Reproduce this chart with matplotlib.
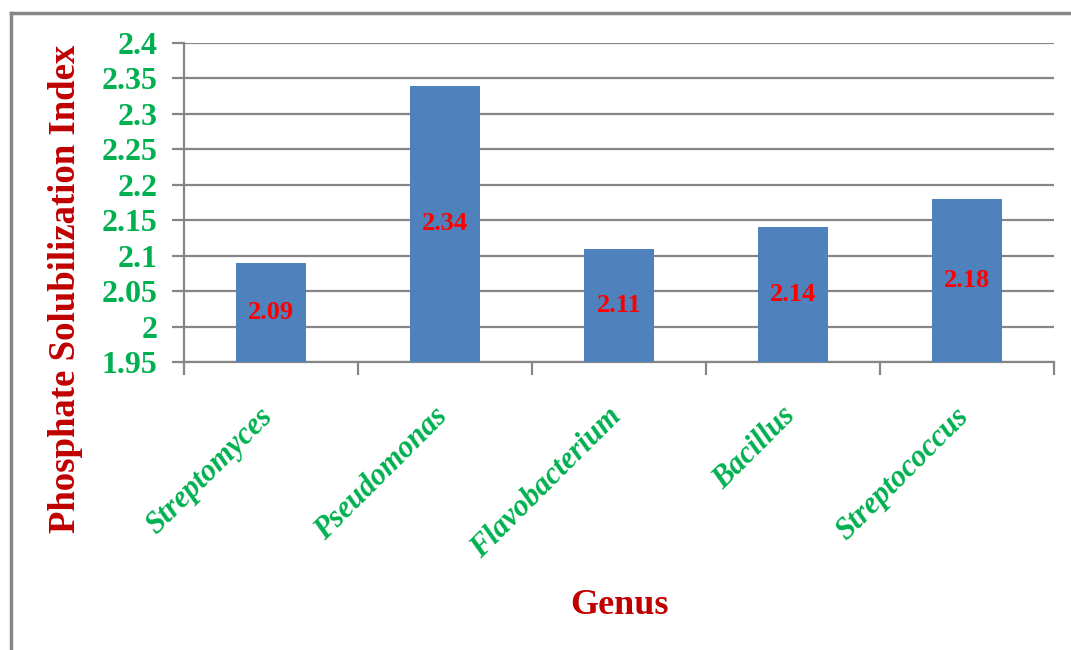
import matplotlib
matplotlib.use("Agg")
import matplotlib.pyplot as plt
from matplotlib.lines import Line2D
from matplotlib import transforms

genera = ["Streptomyces", "Pseudomonas", "Flavobacterium", "Bacillus", "Streptococcus"]
psi_values = [2.09, 2.34, 2.11, 2.14, 2.18]
y_ticks = [1.95, 2.0, 2.05, 2.1, 2.15, 2.2, 2.25, 2.3, 2.35, 2.4]
y_tick_labels = ["1.95", "2", "2.05", "2.1", "2.15", "2.2", "2.25", "2.3", "2.35", "2.4"]

GREEN = "#00B050"
DARK_RED = "#C00000"
RED = "#FF0000"
BAR = "#4F81BD"
GRID = "#868686"

plt.rcParams["font.family"] = ["Liberation Serif", "DejaVu Serif"]

fig = plt.figure(figsize=(10.71, 6.5), dpi=100)
ax = fig.add_axes([184 / 1071, 1 - 362 / 650, (1054 - 184) / 1071, (362 - 43) / 650])

base = y_ticks[0]
x = list(range(len(genera)))
heights = [v - base for v in psi_values]
ax.bar(x, heights, bottom=base, width=0.4, color=BAR, zorder=3)

for xi, v in zip(x, psi_values):
    ax.text(xi, (base + v) / 2, f"{v:.2f}", ha="center", va="center",
            color=RED, fontsize=19, fontweight="bold", zorder=4)

ax.set_xlim(-0.5, len(genera) - 0.5)
ax.set_ylim(y_ticks[0], y_ticks[-1])
ax.set_yticks(y_ticks)
ax.set_yticklabels(y_tick_labels, color=GREEN, fontsize=23, fontweight="bold")
ax.yaxis.grid(True, color=GRID, linewidth=1.6, zorder=0)
ax.set_axisbelow(True)

# category boundaries carry the x tick marks; names sit at bar centres
ax.set_xticks([i - 0.5 for i in range(len(genera) + 1)])
ax.set_xticklabels([])
ax.tick_params(axis="x", direction="out", length=9, width=1.6, color=GRID)
ax.tick_params(axis="y", direction="out", length=9, width=1.6, color=GRID, pad=10)

name_trans = transforms.blended_transform_factory(ax.transData, ax.transAxes) + \
    transforms.ScaledTranslation(-2 / 100, -50 / 100, fig.dpi_scale_trans)
for xi, name in zip(x, genera):
    ax.text(xi, 0, name, rotation=45, rotation_mode="anchor",
            ha="right", va="center", color=GREEN, fontsize=22,
            fontweight="bold", fontstyle="italic",
            transform=name_trans, clip_on=False)

for side in ("top", "right"):
    ax.spines[side].set_visible(False)
for side in ("left", "bottom"):
    ax.spines[side].set_color(GRID)
    ax.spines[side].set_linewidth(1.6)

ax.set_ylabel("Phosphate Solubilization Index", color=DARK_RED, fontsize=26.5,
              fontweight="bold")
ax.yaxis.set_label_coords(-0.116, 0.23)
fig.text(620 / 1071, 1 - 605 / 650, "Genus", color=DARK_RED, fontsize=26,
         fontweight="bold", ha="center", va="center")

# outer chart frame (left and top edges)
fx, fy = 11 / 1071, 1 - 13 / 650
fig.add_artist(Line2D([fx, fx], [0, fy], transform=fig.transFigure, color=GRID, linewidth=2.5))
fig.add_artist(Line2D([fx, 1], [fy, fy], transform=fig.transFigure, color=GRID, linewidth=2.5))

fig.savefig("out.png", dpi=100, facecolor="white")
